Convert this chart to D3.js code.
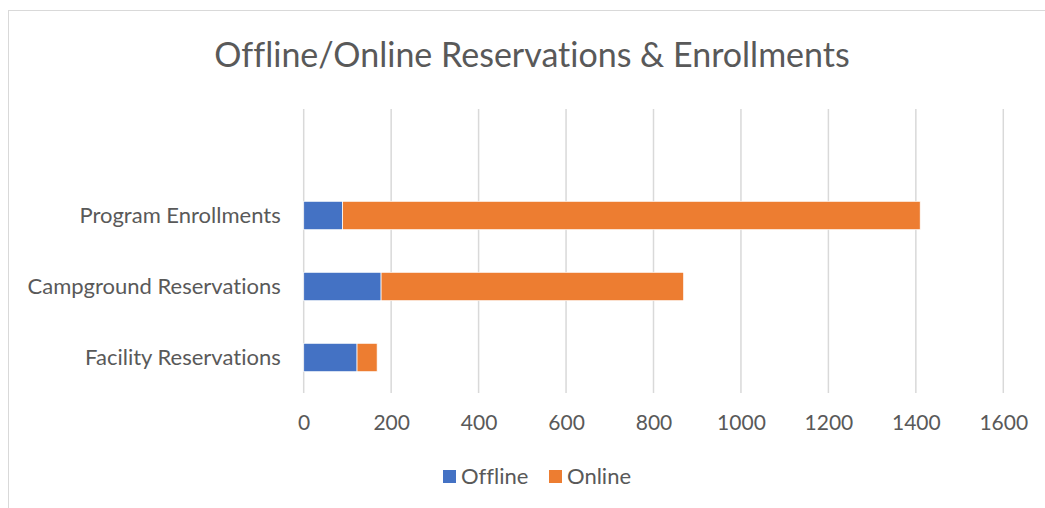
<!DOCTYPE html>
<html>
<head>
<meta charset="utf-8">
<script src="https://cdn.jsdelivr.net/npm/d3@7"></script>
<style>
  body { margin: 0; background: #fff; }
  svg { display: block; font-family: Lato, "Open Sans", sans-serif; font-variant-ligatures: none; }
</style>
</head>
<body>
<div id="wrapper"></div>
<script>
const categories = ["Facility Reservations", "Campground Reservations", "Program Enrollments"]
const offline = [122, 177, 89]
const online = [46, 692, 1321]
const seriesNames = ["Offline", "Online"]
const colors = ["#4472C4", "#ED7D31"]
const ticks = [0, 200, 400, 600, 800, 1000, 1200, 1400, 1600]

const width = 1045
const height = 508

const wrapper = d3.select("#wrapper")
  .append("svg")
    .attr("width", width)
    .attr("height", height)

// chart frame
wrapper.append("rect")
  .attr("x", 8.5)
  .attr("y", 10.5)
  .attr("width", width)
  .attr("height", height)
  .attr("fill", "#fff")
  .attr("stroke", "#d9d9d9")

wrapper.append("text")
  .attr("x", 532)
  .attr("y", 67)
  .attr("text-anchor", "middle")
  .attr("fill", "#595959")
  .style("font-size", "34px")
  .text("Offline/Online Reservations & Enrollments")

const xScale = d3.scaleLinear()
  .domain([0, 1600])
  .range([303.7, 1003.3])

const yScale = d3.scaleBand()
  .domain(categories)
  .range([393, 180])
  .paddingInner(0.6)
  .paddingOuter(0.3)

const grid = wrapper.append("g")
grid.selectAll("line")
  .data(ticks)
  .join("line")
    .attr("x1", d => xScale(d))
    .attr("x2", d => xScale(d))
    .attr("y1", 109)
    .attr("y2", 393)
    .attr("stroke", "#d9d9d9")
    .attr("stroke-width", 1.5)

const rows = categories.map((c, i) => ({ cat: c, Offline: offline[i], Online: online[i] }))
const stacked = d3.stack().keys(seriesNames)(rows)

wrapper.append("g")
  .selectAll("g")
  .data(stacked)
  .join("g")
    .attr("fill", (d, i) => colors[i])
  .selectAll("rect")
  .data(d => d)
  .join("rect")
    .attr("x", d => xScale(d[0]))
    .attr("width", d => xScale(d[1]) - xScale(d[0]))
    .attr("y", d => yScale(d.data.cat))
    .attr("height", yScale.bandwidth())
    .attr("stroke", "#fff")
    .attr("stroke-width", 0.75)

const xAxisGenerator = d3.axisBottom()
  .scale(xScale)
  .tickValues(ticks)
  .tickFormat(d3.format("d"))
  .tickSize(0)
  .tickPadding(22)

const xAxis = wrapper.append("g")
  .attr("transform", "translate(0, 393)")
  .call(xAxisGenerator)
xAxis.select(".domain").remove()
xAxis.selectAll("text")
  .attr("fill", "#595959")
  .style("font-size", "21px")
  .style("font-family", "Lato, 'Open Sans', sans-serif")

const yAxisGenerator = d3.axisLeft()
  .scale(yScale)
  .tickSize(0)
  .tickPadding(23)

const yAxis = wrapper.append("g")
  .attr("transform", "translate(303.7, 0)")
  .call(yAxisGenerator)
yAxis.select(".domain").remove()
yAxis.selectAll("text")
  .attr("fill", "#595959")
  .style("font-size", "22px")
  .style("font-family", "Lato, 'Open Sans', sans-serif")

// legend
const legendX = [443, 549]
const legend = wrapper.append("g")
  .selectAll("g")
  .data(seriesNames)
  .join("g")
    .attr("transform", (d, i) => `translate(${legendX[i]}, 470)`)
legend.append("rect")
  .attr("width", 13)
  .attr("height", 13)
  .attr("fill", (d, i) => colors[i])
legend.append("text")
  .attr("x", 18)
  .attr("y", 14)
  .attr("fill", "#595959")
  .style("font-size", "22px")
  .text(d => d)
</script>
</body>
</html>
